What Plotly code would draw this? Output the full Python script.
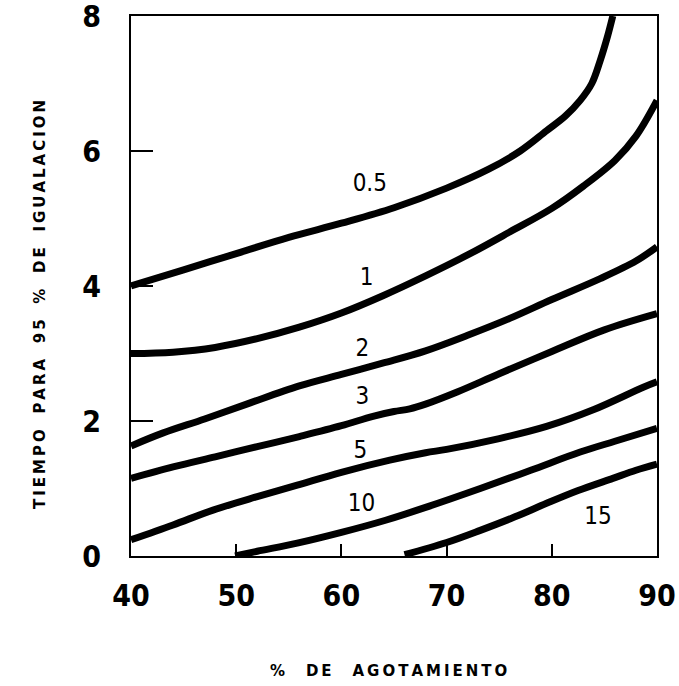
import plotly.graph_objects as go

# Curves: x = % de agotamiento, y = tiempo para 95 % de igualacion
c05_x = [40, 45, 50, 55, 60, 65, 70, 74, 77, 79.5, 81.3, 82.7, 83.8, 84.6, 85.3, 85.8]
c05_y = [4.0, 4.24, 4.48, 4.72, 4.93, 5.16, 5.45, 5.73, 6.0, 6.3, 6.52, 6.75, 7.0, 7.34, 7.7, 8.0]

c1_x = [40, 44, 48, 52, 56, 60, 64, 68, 72, 76, 80, 83, 86, 88, 90]
c1_y = [3.0, 3.02, 3.09, 3.22, 3.39, 3.60, 3.86, 4.15, 4.46, 4.80, 5.15, 5.48, 5.86, 6.22, 6.75]

c2_x = [40, 43, 47, 51, 56, 60, 64, 68, 72, 76, 80, 84.6, 88, 90]
c2_y = [1.63, 1.82, 2.03, 2.25, 2.52, 2.69, 2.86, 3.04, 3.27, 3.52, 3.80, 4.11, 4.37, 4.58]

c3_x = [40, 44, 48, 52, 56, 60, 63, 65, 66.5, 68, 71, 75, 80, 85, 90]
c3_y = [1.15, 1.32, 1.47, 1.62, 1.77, 1.93, 2.07, 2.14, 2.18, 2.25, 2.43, 2.70, 3.03, 3.35, 3.59]

c5_x = [40, 44, 47.8, 52, 55.8, 60, 64.6, 68, 70, 75, 79.5, 84, 88.7, 90]
c5_y = [0.24, 0.46, 0.68, 0.88, 1.05, 1.24, 1.42, 1.53, 1.58, 1.74, 1.92, 2.17, 2.50, 2.58]

c10_x = [49.9, 52, 55.8, 60, 64.2, 68, 73.2, 78, 82.7, 86, 90]
c10_y = [0.0, 0.07, 0.19, 0.35, 0.53, 0.72, 1.00, 1.27, 1.54, 1.70, 1.89]

c15_x = [66, 70, 73.2, 76.5, 79.5, 82.5, 85.8, 88, 90]
c15_y = [0.02, 0.20, 0.38, 0.58, 0.78, 0.97, 1.15, 1.27, 1.36]

curve_labels = ["0.5", "1", "2", "3", "5", "10", "15"]
label_x = [62.7, 62.4, 62.0, 62.0, 61.8, 61.9, 84.4]
label_y = [5.49, 4.11, 3.05, 2.34, 1.54, 0.75, 0.56]

x_ticks = [40, 50, 60, 70, 80, 90]
y_ticks = [0, 2, 4, 6, 8]

x_title_words = ["%", "DE", "AGOTAMIENTO"]
y_title_words = ["TIEMPO", "PARA", "95", "%", "DE", "IGUALACION"]


def spaced(words, gap):
    return gap.join("\u2009".join(w) for w in words)


curves = [(c05_x, c05_y), (c1_x, c1_y), (c2_x, c2_y), (c3_x, c3_y),
          (c5_x, c5_y), (c10_x, c10_y), (c15_x, c15_y)]

fig = go.Figure()
for (xs, ys), name in zip(curves, curve_labels):
    fig.add_trace(go.Scatter(x=xs, y=ys, mode="lines", name=name,
                             line=dict(color="black", width=7, shape="spline", smoothing=1.0),
                             showlegend=False, hoverinfo="skip"))

fig.add_trace(go.Scatter(x=label_x, y=label_y, mode="text", text=curve_labels,
                         textfont=dict(family="DejaVu Sans Condensed, Liberation Sans Narrow, sans-serif",
                                       size=24, color="black"),
                         showlegend=False, hoverinfo="skip"))

font_tick = dict(family="DejaVu Sans Condensed, Liberation Sans Narrow, sans-serif", size=30,
                 color="black", weight="bold")
font_title = dict(family="DejaVu Sans, sans-serif", size=15, color="black", weight="bold")

fig.update_layout(
    width=679, height=686,
    margin=dict(l=131, r=22, t=16, b=130),
    paper_bgcolor="white", plot_bgcolor="white",
    xaxis=dict(range=[40, 90], tickvals=x_ticks, ticktext=[str(v) for v in x_ticks],
               ticks="inside", ticklen=12, tickwidth=1.5, tickcolor="black",
               showline=True, linecolor="black", linewidth=2, mirror=True,
               showgrid=False, zeroline=False, tickfont=font_tick, automargin=False,
               ticklabelstandoff=12, ticklabeloverflow="allow"),
    yaxis=dict(range=[0, 8], tickvals=y_ticks, ticktext=[str(v) for v in y_ticks],
               ticks="inside", ticklen=22, tickwidth=1.5, tickcolor="black",
               showline=True, linecolor="black", linewidth=2, mirror=True,
               showgrid=False, zeroline=False, tickfont=font_tick, automargin=False,
               ticklabelstandoff=22, ticklabeloverflow="allow"),
    annotations=[
        dict(text=spaced(x_title_words, "    "), font=font_title, showarrow=False,
             xref="paper", yref="paper", x=(388 - 131) / 526, y=-(671 - 556) / 540,
             xanchor="center", yanchor="middle"),
        dict(text=spaced(y_title_words, "   "), font=font_title, showarrow=False, textangle=-90,
             xref="paper", yref="paper", x=-(131 - 40) / 526, y=(556 - 305) / 540,
             xanchor="center", yanchor="middle"),
    ],
)

fig.write_html("out.html")
